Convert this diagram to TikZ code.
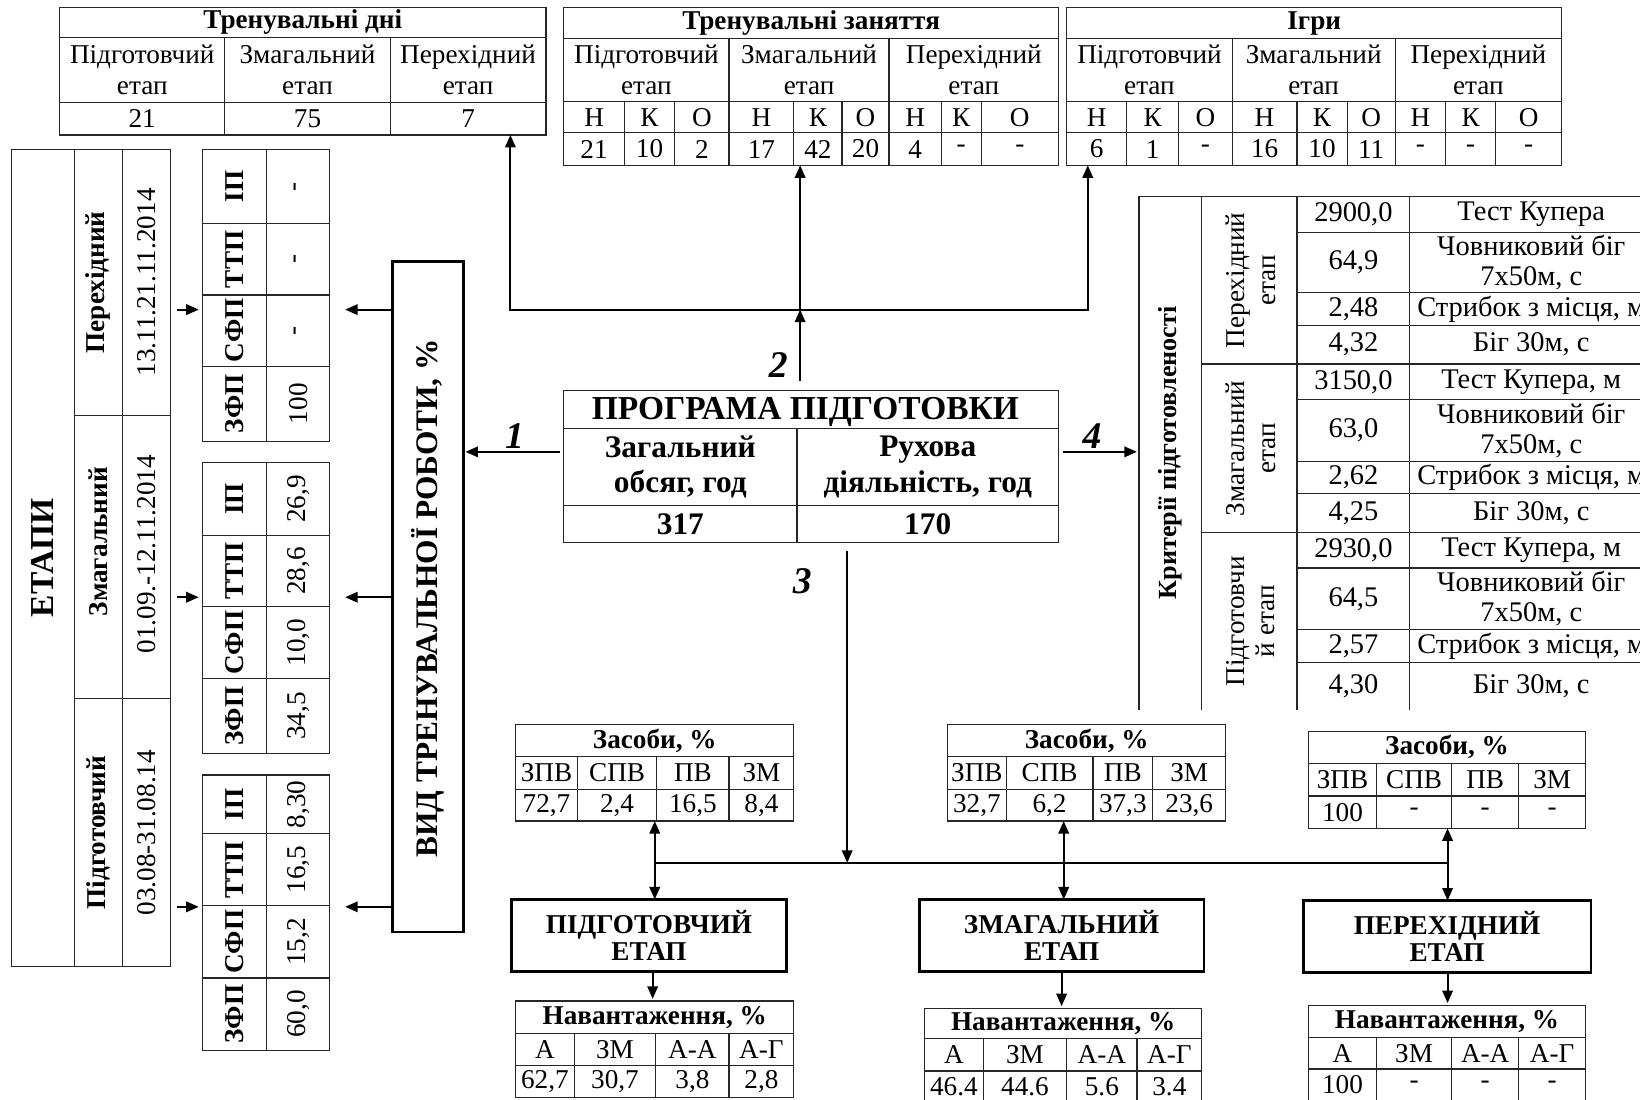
\documentclass[tikz,border=0pt]{standalone}
\usepackage{fontspec}
\setmainfont{Liberation Serif}
\usetikzlibrary{arrows.meta}
\newcounter{cellno}
\tikzset{
 tbl/.style={draw=black!85, line width=0.55pt},
 txt/.style={inner sep=0pt, align=center, font=\fontsize{13}{15}\selectfont},
 btxt/.style={inner sep=0pt, align=center, font=\fontsize{13}{15}\selectfont\bfseries},
 rtxt/.style={txt, rotate=90},
 rbtxt/.style={btxt, rotate=90},
 ctxt/.style={inner sep=0pt, align=center, font=\fontsize{13.6}{14.5}\selectfont},
 arr/.style={-{Triangle[length=6pt,width=5pt]}, line width=1pt},
 darr/.style={{Triangle[length=6pt,width=5pt]}-{Triangle[length=6pt,width=5pt]}, line width=1pt},
 bline/.style={line width=1pt, line cap=rect},
 thickbox/.style={draw, line width=1.3pt},
 lbl/.style={inner sep=0pt, font=\fontsize{18}{20}\selectfont\bfseries\itshape},
}
% [style]{x1}{y1}{x2}{y2}{text}
\newcommand\tcell[6][txt]{%
 \draw[tbl] (#2,#3) rectangle (#4,#5);
 \stepcounter{cellno}\edef\cname{c\arabic{cellno}}%
 \node[#1] (\cname) at ({(#2+#4)/2},{(#3+#5)/2}) {#6};}
% text only
\newcommand\ttext[4][txt]{%
 \stepcounter{cellno}\edef\cname{c\arabic{cellno}}%
 \node[#1] (\cname) at ({#2},{#3}) {#4};}
\begin{document}
\begin{tikzpicture}[x=0.5pt,y=-0.5pt]
\useasboundingbox (0,0) rectangle (1568,1051);

% ---------- Top table 1
\tcell[btxt]{57}{7}{522}{36}{Тренувальні дні}
\tcell{57}{36}{215}{98}{Підготовчий\\етап}
\tcell{215}{36}{373}{98}{Змагальний\\етап}
\tcell{373}{36}{522}{98}{Перехідний\\етап}
\tcell{57}{98}{215}{129}{21}
\tcell{215}{98}{373}{129}{75}
\tcell{373}{98}{522}{129}{7}

% ---------- Top table 2
\tcell[btxt]{539}{7}{1012}{37}{Тренувальні заняття}
\tcell{539}{37}{697}{97}{Підготовчий\\етап}
\tcell{697}{37}{850}{97}{Змагальний\\етап}
\tcell{850}{37}{1012}{97}{Перехідний\\етап}
\foreach \xa/\xb/\ta/\tb in {539/597/Н/21, 597/645/К/10, 645/697/О/2,
  697/759/Н/17, 759/805/К/42, 805/850/О/20, 850/900/Н/4, 900/938/К/-, 938/1012/О/-}{
  \tcell{\xa}{97}{\xb}{127}{\ta}
  \tcell{\xa}{127}{\xb}{158}{\tb}
}

% ---------- Top table 3
\tcell[btxt]{1020}{7}{1493}{37}{Ігри}
\tcell{1020}{37}{1178}{97}{Підготовчий\\етап}
\tcell{1178}{37}{1334}{97}{Змагальний\\етап}
\tcell{1334}{37}{1493}{97}{Перехідний\\етап}
\foreach \xa/\xb/\ta/\tb in {1020/1077/Н/6, 1077/1127/К/1, 1127/1178/О/-,
  1178/1240/Н/16, 1240/1288/К/10, 1288/1334/О/11, 1334/1382/Н/-, 1382/1430/К/-, 1430/1493/О/-}{
  \tcell{\xa}{97}{\xb}{127}{\ta}
  \tcell{\xa}{127}{\xb}{158}{\tb}
}

% ---------- connectors to top tables
\coordinate (busL) at (488,296);
\coordinate (busM) at (765,296);
\coordinate (busR) at (1040,296);
\coordinate (t1in) at (488,129);
\coordinate (t2in) at (765,158);
\coordinate (t3in) at (1040,158);
\coordinate (progtop) at (765,364);
\draw[bline] (busL) -- (busR);
\draw[arr] (busL) -- (t1in);
\draw[arr] (busM) -- (t2in);
\draw[arr] (busR) -- (t3in);
\draw[arr] (progtop) -- (busM);
\node[lbl] (l2) at (744,349) {2};

% ---------- Program box
\draw[tbl] (539,373) rectangle (1012,410);
\ttext[btxt,font=\fontsize{16}{17}\selectfont\bfseries]{770}{394}{ПРОГРАМА ПІДГОТОВКИ}
\tcell[btxt,font=\fontsize{15}{17}\selectfont\bfseries]{539}{410}{762}{483}{Загальний\\обсяг, год}
\tcell[btxt,font=\fontsize{15}{17}\selectfont\bfseries]{762}{410}{1012}{483}{Рухова\\діяльність, год}
\tcell[btxt,font=\fontsize{15}{17}\selectfont\bfseries]{539}{483}{762}{519}{317}
\tcell[btxt,font=\fontsize{15}{17}\selectfont\bfseries]{762}{483}{1012}{519}{170}

\coordinate (progL) at (535,432);
\coordinate (vidR) at (445,432);
\draw[arr] (progL) -- (vidR);
\node[lbl] (l1) at (492,417) {1};

\coordinate (progR) at (1016,432);
\coordinate (critL) at (1087,432);
\draw[arr] (progR) -- (critL);
\node[lbl] (l4) at (1044,417) {4};

\coordinate (progB) at (810,527);
\coordinate (bus3M) at (810,825);
\draw[arr] (progB) -- (bus3M);
\node[lbl] (l3) at (767,556) {3};

% ---------- VID box
\draw[thickbox] (375,250) rectangle (443,891);
\node[rotate=90, inner sep=0pt, font=\fontsize{15}{17}\selectfont\bfseries] (vid) at (409,572) {ВИД ТРЕНУВАЛЬНОЇ РОБОТИ, \%};
\coordinate (vid1) at (375,296); \coordinate (st1R) at (330,296);
\coordinate (vid2) at (375,571); \coordinate (st2R) at (330,571);
\coordinate (vid3) at (375,867); \coordinate (st3R) at (330,867);
\draw[arr] (vid1) -- (st1R);
\draw[arr] (vid2) -- (st2R);
\draw[arr] (vid3) -- (st3R);

% ---------- ETAPI table
\tcell[rbtxt,font=\fontsize{16}{18}\selectfont\bfseries]{11}{143}{71}{924}{ЕТАПИ}
\tcell[rbtxt]{71}{143}{117}{397}{Перехідний}
\tcell[rtxt]{117}{143}{163}{397}{13.11.21.11.2014}
\draw[tbl] (71,397) rectangle (117,668);
\ttext[rbtxt]{94}{518}{Змагальний}
\draw[tbl] (117,397) rectangle (163,668);
\ttext[rtxt]{140}{530}{01.09.-12.11.2014}
\tcell[rbtxt]{71}{668}{117}{924}{Підготовчий}
\tcell[rtxt]{117}{668}{163}{924}{03.08-31.08.14}
\coordinate (et1) at (169,296); \coordinate (st1L) at (190,296);
\coordinate (et2) at (169,571); \coordinate (st2L) at (190,571);
\coordinate (et3) at (169,867); \coordinate (st3L) at (190,867);
\draw[arr] (et1) -- (st1L);
\draw[arr] (et2) -- (st2L);
\draw[arr] (et3) -- (st3L);

% ---------- small tables
\foreach \ya/\yb/\ta/\tb in {143/214/ІП/-, 214/282/ТТП/-, 282/350/СФП/-, 350/422/ЗФП/100,
  442/512/ІП/{26,9}, 512/580/ТТП/{28,6}, 580/649/СФП/{10,0}, 649/720/ЗФП/{34,5},
  741/797/ІП/{8,30}, 797/866/ТТП/{16,5}, 866/935/СФП/{15,2}, 935/1004/ЗФП/{60,0}}{
  \tcell[rbtxt]{194}{\ya}{255}{\yb}{\ta}
  \tcell[rtxt]{255}{\ya}{315}{\yb}{\tb}
}

% ---------- criteria table
\draw[tbl] (1089,679) -- (1089,188) -- (1620,188);
\draw[tbl] (1149,188) -- (1149,679);
\draw[tbl] (1240,188) -- (1240,679);
\draw[tbl] (1348,188) -- (1348,679);
\draw[tbl] (1149,348) -- (1620,348);
\draw[tbl] (1149,509) -- (1620,509);
\foreach \y in {222,280,311,382,441,472,543,602,633}{
  \draw[tbl] (1240,\y) -- (1620,\y);
}
\ttext[rbtxt,font=\fontsize{12.5}{14}\selectfont\bfseries]{1119}{433}{Критерії підготовленості}
\ttext[rtxt,font=\fontsize{13}{14.5}\selectfont]{1196}{268}{Перехідний\\етап}
\ttext[rtxt,font=\fontsize{13}{14.5}\selectfont]{1196}{429}{Змагальний\\етап}
\ttext[rtxt,font=\fontsize{13}{14.5}\selectfont]{1196}{594}{Підготовчи\\й етап}
\foreach \ya/\yb/\ta/\tb in {188/222/{2900,0}/Тест Купера, 222/280/{64,9}/{Човниковий біг\\7х50м, с},
  280/311/{2,48}/{Стрибок з місця, м}, 311/348/{4,32}/{Біг 30м, с},
  348/382/{3150,0}/{Тест Купера, м}, 382/441/{63,0}/{Човниковий біг\\7х50м, с},
  441/472/{2,62}/{Стрибок з місця, м}, 472/509/{4,25}/{Біг 30м, с},
  509/543/{2930,0}/{Тест Купера, м}, 543/602/{64,5}/{Човниковий біг\\7х50м, с},
  602/633/{2,57}/{Стрибок з місця, м}, 633/679/{4,30}/{Біг 30м, с}}{
  \ttext[ctxt]{1294}{(\ya+\yb)/2}{\ta}
  \ttext[ctxt]{1464}{(\ya+\yb)/2}{\tb}
}

% ---------- bottom: Zasoby tables
\tcell[btxt]{493}{693}{759}{723}{Засоби, \%}
\foreach \xa/\xb/\ta/\tb in {493/552/ЗПВ/{72,7}, 552/628/СПВ/{2,4}, 628/697/ПВ/{16,5}, 697/759/ЗМ/{8,4}}{
  \tcell{\xa}{723}{\xb}{755}{\ta}
  \tcell{\xa}{755}{\xb}{785}{\tb}
}
\tcell[btxt]{906}{693}{1172}{723}{Засоби, \%}
\foreach \xa/\xb/\ta/\tb in {906/962/ЗПВ/{32,7}, 962/1045/СПВ/{6,2}, 1045/1102/ПВ/{37,3}, 1102/1172/ЗМ/{23,6}}{
  \tcell{\xa}{723}{\xb}{755}{\ta}
  \tcell{\xa}{755}{\xb}{785}{\tb}
}
\tcell[btxt]{1251}{699}{1516}{730}{Засоби, \%}
\foreach \xa/\xb/\ta/\tb in {1251/1316/ЗПВ/100, 1316/1388/СПВ/-, 1388/1452/ПВ/-, 1452/1516/ЗМ/-}{
  \tcell{\xa}{730}{\xb}{761}{\ta}
  \tcell{\xa}{761}{\xb}{792}{\tb}
}

% ---------- stage boxes
\node[thickbox, minimum width=131.5pt, minimum height=34.5pt, align=center, inner sep=0pt,
  font=\fontsize{13}{13}\selectfont\bfseries] (b1) at (620.5,894.5) {ПІДГОТОВЧИЙ\\ЕТАП};
\node[thickbox, minimum width=136pt, minimum height=34.5pt, align=center, inner sep=0pt,
  font=\fontsize{13}{13}\selectfont\bfseries] (b2) at (1015,894.5) {ЗМАГАЛЬНИЙ\\ЕТАП};
\node[thickbox, minimum width=137.5pt, minimum height=34.5pt, align=center, inner sep=0pt,
  font=\fontsize{13}{13}\selectfont\bfseries] (b3) at (1383.5,895.5) {ПЕРЕХІДНИЙ\\ЕТАП};

% bus
\coordinate (busa) at (626,825);
\coordinate (busb) at (1017,825);
\coordinate (busc) at (1384,825);
\draw[bline] (busa) -- (busc);
\coordinate (z1b) at (626,785); \coordinate (b1t) at (626,860);
\coordinate (z2b) at (1017,785); \coordinate (b2t) at (1017,860);
\coordinate (z3b) at (1384,792); \coordinate (b3t) at (1384,861);
\draw[darr] (z1b) -- (b1t);
\draw[darr] (z2b) -- (b2t);
\draw[darr] (z3b) -- (b3t);

\coordinate (b1b) at (624,929); \coordinate (n1t) at (624,955);
\coordinate (b2b) at (1015,929); \coordinate (n2t) at (1015,962);
\coordinate (b3b) at (1384,930); \coordinate (n3t) at (1384,959);
\draw[arr] (b1b) -- (n1t);
\draw[arr] (b2b) -- (n2t);
\draw[arr] (b3b) -- (n3t);

% ---------- Navantazhennia tables
\tcell[btxt]{493}{957}{759}{988}{Навантаження, \%}
\foreach \xa/\xb/\ta/\tb in {493/549/А/{62,7}, 549/627/ЗМ/{30,7}, 627/697/А-А/{3,8}, 697/759/А-Г/{2,8}}{
  \tcell{\xa}{988}{\xb}{1019}{\ta}
  \tcell{\xa}{1019}{\xb}{1049}{\tb}
}
\tcell[btxt]{884}{964}{1149}{993}{Навантаження, \%}
\foreach \xa/\xb/\ta/\tb in {884/940/А/46.4, 940/1020/ЗМ/44.6, 1020/1087/А-А/5.6, 1087/1149/А-Г/3.4}{
  \tcell{\xa}{993}{\xb}{1024}{\ta}
  \draw[tbl] (\xa,1024) rectangle (\xb,1070);
  \ttext{(\xa+\xb)/2}{1039}{\tb}
}
\tcell[btxt]{1251}{961}{1516}{992}{Навантаження, \%}
\foreach \xa/\xb/\ta/\tb in {1251/1316/А/100, 1316/1388/ЗМ/-, 1388/1452/А-А/-, 1452/1516/А-Г/-}{
  \tcell{\xa}{992}{\xb}{1022}{\ta}
  \draw[tbl] (\xa,1022) rectangle (\xb,1070);
  \ttext{(\xa+\xb)/2}{1037}{\tb}
}
\end{tikzpicture}
\end{document}
